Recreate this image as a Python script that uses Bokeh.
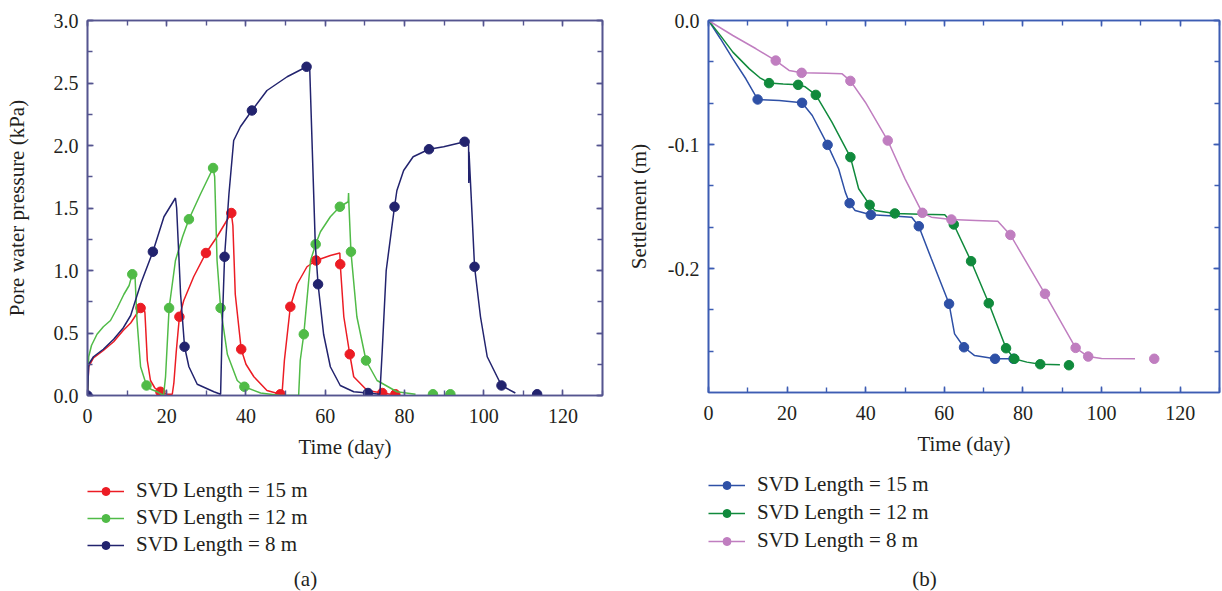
from bokeh.plotting import figure
from bokeh.layouts import row, column
from bokeh.models import (Range1d, SingleIntervalTicker, LinearAxis, NumeralTickFormatter,
                          CustomJSTickFormatter, Legend, LegendItem, Label)
from bokeh.embed import file_html
from bokeh.resources import INLINE

# ---------------- (a) Pore water pressure ----------------
red_t = [0, 0.3, 1.5, 4, 6.6, 9, 10.9, 13.4, 14.2, 14.5, 15.1, 15.9, 17, 18.4, 20, 21.4, 21.8, 22.4, 23.2, 24.3,
         26.8, 29.9, 32.7, 36.3, 36.7, 37.3, 38.8, 40, 42, 45.3, 48.7, 49.1, 49.7, 51.2, 52.9, 55.4, 57.7, 61.3, 63.7, 63.8,
         64.7, 66.2, 67.2, 70.6, 74.4, 76.5]
red_v = [0, 0.23, 0.30, 0.36, 0.43, 0.52, 0.58, 0.70, 0.71, 0.66, 0.28, 0.12, 0.06, 0.03, 0.01, 0.01, 0.10, 0.35, 0.63, 0.76,
         0.95, 1.14, 1.27, 1.46, 1.36, 0.81, 0.37, 0.25, 0.15, 0.04, 0.01, 0.01, 0.28, 0.71, 0.89, 1.03, 1.08, 1.12, 1.14, 1.05,
         0.63, 0.33, 0.15, 0.04, 0.02, 0.01]
red_mt = [13.4, 18.4, 23.2, 29.9, 36.3, 38.8, 48.7, 51.2, 57.7, 63.8, 66.2, 74.4, 77.7]
red_mv = [0.70, 0.03, 0.63, 1.14, 1.46, 0.37, 0.01, 0.71, 1.08, 1.05, 0.33, 0.02, 0.01]

grn_t = [0, 0.3, 1, 2.4, 4, 5.8, 7.5, 9.2, 10.5, 11.3, 12.0, 12.5, 13.4, 14.9, 16, 17.6, 19.2, 19.7, 20.6, 22.2,
         24, 25.6, 28.5, 31.7, 32.1, 32.7, 33.6, 35.3, 37.8, 39.6, 43.7, 48.7, 53.3, 53.7, 54.6, 56.3, 57.6, 58.8, 61.3, 63.7,
         65.8, 65.9, 66.0, 66.5, 68, 70.3, 73.1, 78.1, 82.8]
grn_v = [0, 0.31, 0.40, 0.49, 0.55, 0.60, 0.70, 0.81, 0.88, 0.97, 0.95, 0.60, 0.23, 0.08, 0.05, 0.03, 0.0, 0.15, 0.70, 1.08,
         1.27, 1.41, 1.61, 1.82, 1.75, 1.08, 0.70, 0.33, 0.12, 0.07, 0.02, 0.0, 0.0, 0.28, 0.49, 1.08, 1.21, 1.31, 1.43, 1.51,
         1.55, 1.62, 1.52, 1.15, 0.63, 0.28, 0.12, 0.03, 0.01]
grn_mt = [11.3, 14.9, 20.6, 25.6, 31.7, 33.6, 39.6, 54.6, 57.6, 63.7, 66.5, 70.3, 87.2, 91.6]
grn_mv = [0.97, 0.08, 0.70, 1.41, 1.82, 0.70, 0.07, 0.49, 1.21, 1.51, 1.15, 0.28, 0.01, 0.01]

nav_t = [0, 0.3, 1.5, 4, 6.6, 9, 10.9, 13.5, 16.5, 19.3, 22.2, 22.5, 23.5, 24.5, 25.6, 27.7, 31.9, 33.6, 34.0, 34.6,
         35.7, 36.9, 38.6, 41.5, 45.3, 50.4, 55.3, 56.1, 57.5, 58.2, 59.6, 61.3, 63.8, 67.2, 70.8, 73.8, 74.4, 75.4, 77.5, 78.1,
         79.8, 82.2, 86.2, 89.9, 95.2, 96.2, 96.25, 96.3, 97.1, 97.7, 99.2, 100.9, 104.5, 108]
nav_v = [0, 0.25, 0.31, 0.37, 0.45, 0.54, 0.64, 0.90, 1.15, 1.43, 1.58, 1.50, 0.81, 0.39, 0.23, 0.09, 0.03, 0.01, 0.55, 1.11,
         1.61, 2.04, 2.15, 2.28, 2.44, 2.55, 2.63, 2.61, 1.21, 0.89, 0.49, 0.23, 0.08, 0.03, 0.02, 0.01, 0.36, 1.00, 1.51, 1.64,
         1.80, 1.91, 1.97, 1.99, 2.03, 2.01, 1.70, 1.95, 1.43, 1.03, 0.63, 0.31, 0.08, 0.02]
nav_mt = [0, 16.5, 24.5, 34.6, 41.5, 55.3, 58.2, 70.8, 77.5, 86.2, 95.2, 97.7, 104.5, 113.5]
nav_mv = [0.0, 1.15, 0.39, 1.11, 2.28, 2.63, 0.89, 0.02, 1.51, 1.97, 2.03, 1.03, 0.08, 0.01]

# ---------------- (b) Settlement ----------------
b15_t = [0, 3, 6.2, 9.5, 12.5, 18, 23.8, 26.4, 30.3, 33.1, 34.8, 35.9, 37.3, 41.3, 46, 51.7, 53.5, 56.7, 61.2, 62.6,
         65.0, 67.7, 72.9, 77.6]
b15_s = [0, -0.0145, -0.031, -0.047, -0.0637, -0.0645, -0.0664, -0.0766, -0.1003, -0.1196, -0.1384, -0.1473, -0.1532,
         -0.1567, -0.1575, -0.1586, -0.1659, -0.1922, -0.2285, -0.2527, -0.2635, -0.2702, -0.2728, -0.2728]
b15_mt = [12.5, 23.8, 30.3, 35.9, 41.3, 53.5, 61.2, 65.0, 72.9, 77.6]
b15_ms = [-0.0637, -0.0664, -0.1003, -0.1473, -0.1567, -0.1659, -0.2285, -0.2635, -0.2728, -0.2728]

g12_t = [0, 3, 6.2, 10.4, 13, 15.4, 19, 22.8, 24.6, 27.3, 31.4, 36.1, 38.2, 41.0, 42.4, 47.4, 54, 60.1, 62.4, 66.8,
         71.3, 75.7, 77.8, 81, 84.4, 89.4]
g12_s = [0, -0.012, -0.0255, -0.039, -0.046, -0.0505, -0.0512, -0.0519, -0.0535, -0.060, -0.082, -0.1102, -0.1357,
         -0.1487, -0.1532, -0.1556, -0.1562, -0.1567, -0.1645, -0.1941, -0.228, -0.2643, -0.2728, -0.2755, -0.2772, -0.2777]
g12_mt = [15.4, 22.8, 27.3, 36.1, 41.0, 47.4, 62.4, 66.8, 71.3, 75.7, 77.8, 84.4, 91.7]
g12_ms = [-0.0505, -0.0519, -0.060, -0.1102, -0.1487, -0.1556, -0.1645, -0.1941, -0.228, -0.2643, -0.2728, -0.2772, -0.278]

p8_t = [0, 6.2, 12.1, 17.1, 20.5, 23.7, 30, 34, 36.1, 39.9, 45.6, 50, 54.4, 56.7, 61.8, 68, 73.6, 76.8, 85.6, 93.4,
        96.6, 100, 108.5]
p8_s = [0, -0.0121, -0.0228, -0.0323, -0.0403, -0.0422, -0.0425, -0.043, -0.0487, -0.0659, -0.0968, -0.1277, -0.1551,
        -0.1586, -0.1605, -0.1612, -0.1618, -0.1729, -0.2204, -0.264, -0.271, -0.2725, -0.2728]
p8_mt = [17.1, 23.7, 36.1, 45.6, 54.4, 61.8, 76.8, 85.6, 93.4, 96.6, 113.4]
p8_ms = [-0.0323, -0.0422, -0.0487, -0.0968, -0.1551, -0.1605, -0.1729, -0.2204, -0.264, -0.271, -0.2728]

labels = ["SVD Length = 15 m", "SVD Length = 12 m", "SVD Length = 8 m"]

FONT = "Liberation Serif"
TXT = "#231f20"
FS = "20px"
FSL = "21px"
TOP_H = 470
BOT_H = 121


def style_axis(ax, color, ticker, fmt, show_labels=True):
    ax.ticker = ticker
    ax.axis_line_color = color
    ax.axis_line_width = 1.6
    ax.major_tick_line_color = color
    ax.minor_tick_line_color = color
    ax.major_tick_line_width = 1.4
    ax.minor_tick_line_width = 1.4
    ax.major_tick_in = 6
    ax.major_tick_out = 0
    ax.minor_tick_in = 5
    ax.minor_tick_out = 0
    ax.major_label_text_font = FONT
    ax.major_label_text_font_size = FS
    ax.major_label_text_color = TXT
    ax.axis_label_text_font = FONT
    ax.axis_label_text_font_size = FSL
    ax.axis_label_text_font_style = "normal"
    ax.axis_label_text_color = TXT
    if show_labels:
        ax.formatter = fmt
    else:
        ax.formatter = CustomJSTickFormatter(code="return ''")
        ax.major_label_standoff = 0
        ax.major_label_text_font_size = "0px"


def make_panel(series, xr, yr, xtick, ytick, color, ylabel, caption, cap_dx,
               fw, fh, bl, br, ylab_standoff, leg_top, leg_spacing):
    p = figure(frame_width=fw, frame_height=fh, output_backend="svg", toolbar_location=None,
               x_range=Range1d(*xr), y_range=Range1d(*yr),
               min_border_left=bl, min_border_right=br, min_border_top=20,
               min_border_bottom=TOP_H - 20 - fh,
               x_axis_label="Time (day)", y_axis_label=ylabel)
    p.grid.visible = False
    p.outline_line_color = color
    p.outline_line_width = 1.6
    style_axis(p.xaxis[0], color, xtick, NumeralTickFormatter(format="0"))
    style_axis(p.yaxis[0], color, ytick, NumeralTickFormatter(format="0.0"))
    p.xaxis[0].major_label_standoff = 13
    p.xaxis[0].axis_label_standoff = 9
    p.yaxis[0].major_label_standoff = 9
    p.yaxis[0].axis_label_standoff = ylab_standoff
    top = LinearAxis()
    style_axis(top, color, xtick, None, show_labels=False)
    p.add_layout(top, "above")
    rgt = LinearAxis()
    style_axis(rgt, color, ytick, None, show_labels=False)
    p.add_layout(rgt, "right")

    # legend / caption strip below the plot; its frame is aligned with the plot frame,
    # ranges are in pixels relative to that frame
    w = bl + fw + br
    qh = BOT_H - leg_top
    q = figure(width=w, height=BOT_H, output_backend="svg", toolbar_location=None,
               x_range=Range1d(0, fw), y_range=Range1d(0, qh),
               x_axis_type=None, y_axis_type=None,
               min_border_left=bl, min_border_right=br, min_border_top=leg_top, min_border_bottom=0)
    q.grid.visible = False
    q.outline_line_color = None

    items = []
    for (lt, lv, mt, mv, col, lab) in series:
        lr = p.line(lt, lv, line_color=col, line_width=1.5)
        mr = p.scatter(mt, mv, size=9.5, marker="circle", fill_color=col, line_color=col)
        # hidden proxies (same data) that only provide the legend swatches
        ql = q.line(lt, lv, line_color=col, line_width=1.5, visible=False)
        qm = q.scatter(mt, mv, size=9.5, marker="circle", fill_color=col, line_color=col, visible=False)
        items.append(LegendItem(label=lab, renderers=[ql, qm]))
    leg = Legend(items=items, location="top_left", orientation="vertical",
                 border_line_alpha=0, background_fill_alpha=0,
                 glyph_width=37, glyph_height=20, label_height=20, label_standoff=12, spacing=leg_spacing,
                 padding=0, margin=0,
                 label_text_font=FONT, label_text_font_size=FSL, label_text_color=TXT,
                 label_text_baseline="middle")
    q.add_layout(leg, "center")
    cap = Label(x=cap_dx, y=13, text=caption, text_align="center", text_baseline="middle",
                text_font=FONT, text_font_size=FSL, text_color=TXT)
    q.add_layout(cap)
    return column(p, q, spacing=0)


pa = make_panel(
    [(red_t, red_v, red_mt, red_mv, "#ec1c24", labels[0]),
     (grn_t, grn_v, grn_mt, grn_mv, "#50bb47", labels[1]),
     (nav_t, nav_v, nav_mt, nav_mv, "#22236e", labels[2])],
    (0, 130), (0, 3.0), SingleIntervalTicker(interval=20, num_minor_ticks=2),
    SingleIntervalTicker(interval=0.5, num_minor_ticks=2),
    "#55558f", "Pore water pressure (kPa)", "(a)", 218, 515, 375, 87, 8, 22, 8, 2)

pb = make_panel(
    [(b15_t, b15_s, b15_mt, b15_ms, "#2e50a6", labels[0]),
     (g12_t, g12_s, g12_mt, g12_ms, "#108a3c", labels[1]),
     (p8_t, p8_s, p8_mt, p8_ms, "#c07ec0", labels[2])],
    (0, 130), (-0.3, 0.0), SingleIntervalTicker(interval=20, num_minor_ticks=2),
    SingleIntervalTicker(interval=0.1, num_minor_ticks=3),
    "#3d5db3", "Settlement (m)", "(b)", 216, 511, 372, 98, 2, 14, 2, 3)

layout = row(pa, pb, spacing=0)
open("out.html", "w").write(file_html(layout, INLINE))
